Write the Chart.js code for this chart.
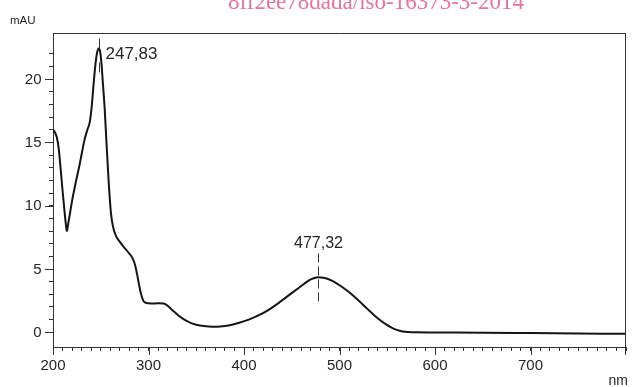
<!DOCTYPE html>
<html><head><meta charset="utf-8">
<script src="https://cdn.jsdelivr.net/npm/chart.js@4"></script>
<style>html,body{margin:0;padding:0;background:#fff}</style>
</head><body>
<canvas id="c" width="632" height="387"></canvas>
<script>
// ---- data ----
const wavelengths = [200,202,204,206,208,210,212,213.5,214.5,216,218,220,224,228,233,236,238.5,240.5,242.5,244.5,246.2,247.8,249.3,250.8,252.3,254,256,258.2,260.7,263,266,269.5,274,279,283,286,288.5,290.5,292.5,294.5,297,303,310,316,320,325,331,338,344,350,358,367,375,385,395,405,415,425,435,445,455,462,468,473,478,483,488,494,500,506,512,518,524,530,536,542,548,554,560,566,572,580,600,650,700,750,800];
const absorbance  = [16.0,15.8,15.4,14.5,12.9,11.2,9.6,8.5,8.0,8.6,9.5,10.4,11.9,13.3,15.2,16.0,16.6,17.8,19.6,21.2,22.1,22.42,22.2,21.2,19.6,17.8,15.0,12.0,9.4,8.3,7.6,7.2,6.75,6.3,5.9,5.3,4.4,3.6,2.95,2.5,2.33,2.28,2.29,2.28,2.1,1.75,1.35,0.98,0.75,0.6,0.49,0.44,0.46,0.56,0.75,1.0,1.33,1.74,2.25,2.82,3.38,3.78,4.1,4.27,4.34,4.31,4.21,4.0,3.72,3.40,3.05,2.65,2.22,1.79,1.37,0.99,0.66,0.39,0.19,0.07,0.02,0.0,-0.01,-0.03,-0.06,-0.09,-0.12];
const xTickLabels = [200,300,400,500,600,700];
const yTickLabels = [0,5,10,15,20];
const peakWavelengths = [247.83, 477.32];
const peakHeights = [22.42, 4.34];
const peakLabels = ['247,83', '477,32'];
const yUnit = 'mAU';
const xUnit = 'nm';
const watermark = '8ff2ee78dada/iso-16373-3-2014';

const FONT = '"Liberation Sans", Arial, Helvetica, sans-serif';
const INK = '#262626';

const extras = {
  id: 'extras',
  afterDraw(chart) {
    const {ctx, chartArea: a, scales: {x, y}} = chart;
    ctx.save();
    ctx.strokeStyle = '#333';
    ctx.lineWidth = 1;
    // frame: top and right, axis extensions
    ctx.beginPath();
    ctx.moveTo(a.left, a.top + 0.5); ctx.lineTo(a.right, a.top + 0.5);
    ctx.moveTo(a.right - 0.5, a.top); ctx.lineTo(a.right - 0.5, a.bottom + 8);
    ctx.moveTo(a.left + 0.5, a.bottom); ctx.lineTo(a.left + 0.5, a.bottom + 8);
    ctx.stroke();
    // longer major ticks
    ctx.beginPath();
    xTickLabels.forEach(v => {
      const px = Math.round(x.getPixelForValue(v)) + 0.5;
      ctx.moveTo(px, a.bottom); ctx.lineTo(px, a.bottom + 8);
    });
    yTickLabels.forEach(v => {
      const py = Math.round(y.getPixelForValue(v)) + 0.5;
      ctx.moveTo(a.left - 8, py); ctx.lineTo(a.left, py);
    });
    ctx.stroke();
    // y tick labels
    ctx.fillStyle = INK;
    ctx.font = '15px ' + FONT;
    ctx.textAlign = 'right';
    ctx.textBaseline = 'middle';
    yTickLabels.forEach(v => {
      ctx.fillText(String(v), a.left - 11.5, y.getPixelForValue(v) + 0.5);
    });
    // peak markers
    const marks = [
      {top: -10, bot: 24, dash: [10, 14], font: 17, align: 'left', dx: 6, dy: 11},
      {top: -24, bot: 26, dash: [9, 4], font: 16, align: 'center', dx: 0, dy: -29}
    ];
    peakWavelengths.forEach((nm, i) => {
      const m = marks[i];
      const px = Math.round(x.getPixelForValue(nm)) + 0.5;
      const py = y.getPixelForValue(peakHeights[i]);
      ctx.setLineDash(m.dash);
      ctx.beginPath();
      ctx.moveTo(px, py + m.top); ctx.lineTo(px, py + m.bot);
      ctx.stroke();
      ctx.setLineDash([]);
      ctx.fillStyle = INK;
      ctx.font = m.font + 'px ' + FONT;
      ctx.textAlign = m.align;
      ctx.textBaseline = 'alphabetic';
      ctx.fillText(peakLabels[i], px + m.dx, py + m.dy);
    });
    // unit labels
    ctx.fillStyle = INK;
    ctx.font = '11.5px ' + FONT;
    ctx.textAlign = 'left';
    ctx.textBaseline = 'alphabetic';
    ctx.fillText(yUnit, 10, 23.5);
    ctx.font = '14px ' + FONT;
    ctx.textAlign = 'right';
    ctx.fillText(xUnit, 628, 385);
    // watermark
    ctx.fillStyle = '#e8739d';
    ctx.font = '23px "Liberation Serif", "Times New Roman", serif';
    ctx.textAlign = 'left';
    ctx.fillText(watermark, 228, 8.5);
    ctx.restore();
  }
};

new Chart(document.getElementById('c'), {
  type: 'line',
  data: {
    datasets: [{
      data: wavelengths.map((w, i) => ({x: w, y: absorbance[i]})),
      borderColor: '#151515',
      borderWidth: 2,
      pointRadius: 0,
      fill: false,
      cubicInterpolationMode: 'monotone'
    }]
  },
  options: {
    responsive: false,
    animation: false,
    layout: {padding: {top: 33, right: 4, left: 0, bottom: 0}},
    plugins: {legend: {display: false}, tooltip: {enabled: false}},
    scales: {
      x: {
        type: 'linear', min: 200, max: 800,
        afterFit(s) { s.height = 40; },
        afterBuildTicks(s) { s.ticks = s.ticks.filter(t => Math.abs(t.value - Math.round(t.value)) < 1e-6); },
        ticks: {
          stepSize: 10, autoSkip: false, maxRotation: 0, padding: 6,
          color: INK, font: {family: FONT, size: 15},
          callback: v => xTickLabels.includes(Math.round(v)) ? String(Math.round(v)) : ''
        },
        grid: {drawOnChartArea: false, drawTicks: true, tickLength: 4, tickColor: '#333'},
        border: {display: true, color: '#333', width: 1}
      },
      y: {
        type: 'linear', min: -1.16, max: 23.64,
        afterFit(s) { s.width = 53; },
        afterBuildTicks(s) { s.ticks = s.ticks.filter(t => Math.abs(t.value - Math.round(t.value)) < 1e-6); },
        ticks: {
          stepSize: 1, autoSkip: false, display: false
        },
        grid: {drawOnChartArea: false, drawTicks: true, tickLength: 4, tickColor: '#333'},
        border: {display: true, color: '#333', width: 1}
      }
    }
  },
  plugins: [extras]
});
</script>
</body></html>
